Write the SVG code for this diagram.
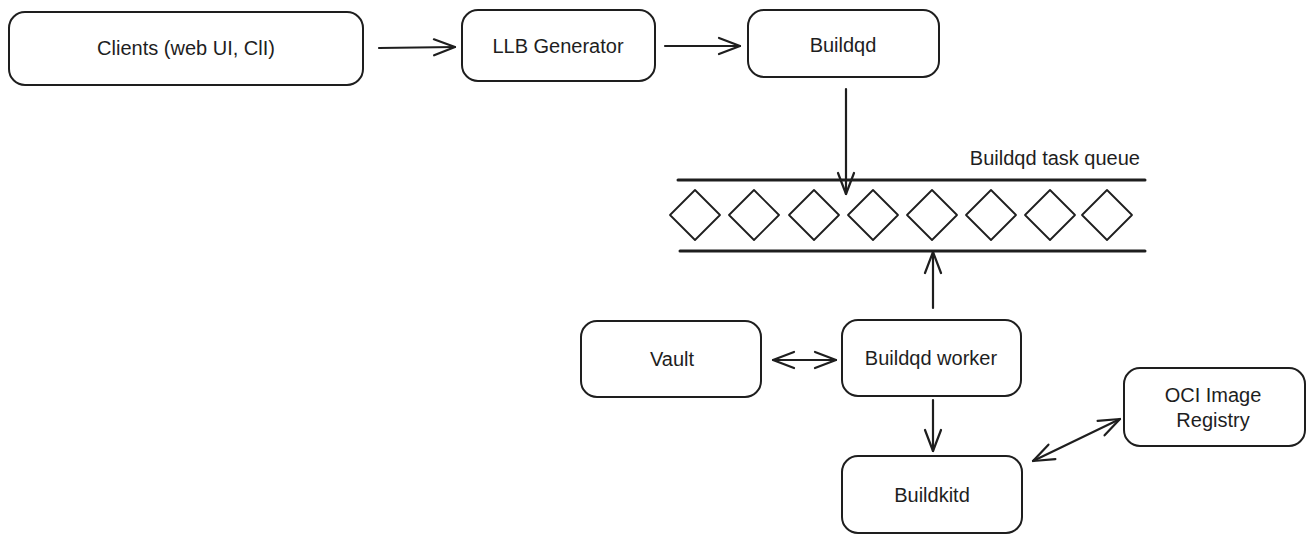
<svg xmlns="http://www.w3.org/2000/svg" width="1314" height="544" viewBox="0 0 1314 544">
<defs>
<marker id="ah" markerUnits="userSpaceOnUse" markerWidth="30" markerHeight="30" viewBox="-25 -15 30 30" refX="0" refY="0" orient="auto-start-reverse">
<path d="M -21 -8 L 0 0 L -21 8" fill="none" stroke="#1e1e1e" stroke-width="2.2" stroke-linecap="round" stroke-linejoin="round"/>
</marker>
</defs>
<style>
.box{fill:#ffffff;stroke:#1e1e1e;stroke-width:2}
.t{font-family:"Liberation Sans","DejaVu Sans",sans-serif;font-size:20px;fill:#1e1e1e;text-anchor:middle;dominant-baseline:central}
.ln{fill:none;stroke:#1e1e1e;stroke-width:2.2;stroke-linecap:round}
.q{fill:none;stroke:#1e1e1e;stroke-width:3;stroke-linecap:round}
.d{fill:#ffffff;stroke:#1e1e1e;stroke-width:1.8;stroke-linejoin:round}
</style>
<rect width="1314" height="544" fill="#ffffff"/>
<g id="clients"><rect class="box" x="9" y="12" width="354" height="73" rx="16"/><text class="t" x="186" y="48">Clients (web UI, ClI)</text></g>
<g id="llb"><rect class="box" x="462" y="10" width="193" height="71" rx="16"/><text class="t" x="558" y="46">LLB Generator</text></g>
<g id="buildqd"><rect class="box" x="748" y="10" width="191" height="67" rx="16"/><text class="t" x="843" y="45">Buildqd</text></g>
<g id="queue">
<text class="t" x="1140" y="158" style="text-anchor:end">Buildqd task queue</text>
<line class="q" x1="678" y1="180" x2="1145" y2="180"/>
<line class="q" x1="680" y1="251" x2="1145" y2="251"/>
<path class="d" d="M 695 190 L 720 215 L 695 240 L 670 215 Z"/>
<path class="d" d="M 754 190 L 779 215 L 754 240 L 729 215 Z"/>
<path class="d" d="M 814 190 L 839 215 L 814 240 L 789 215 Z"/>
<path class="d" d="M 873 190 L 898 215 L 873 240 L 848 215 Z"/>
<path class="d" d="M 932 190 L 957 215 L 932 240 L 907 215 Z"/>
<path class="d" d="M 991 190 L 1016 215 L 991 240 L 966 215 Z"/>
<path class="d" d="M 1050 190 L 1075 215 L 1050 240 L 1025 215 Z"/>
<path class="d" d="M 1107 190 L 1132 215 L 1107 240 L 1082 215 Z"/>
</g>
<g id="vault"><rect class="box" x="581" y="321" width="180" height="76" rx="16"/><text class="t" x="672" y="359">Vault</text></g>
<g id="worker"><rect class="box" x="842" y="320" width="179" height="76" rx="16"/><text class="t" x="931" y="358">Buildqd worker</text></g>
<g id="buildkitd"><rect class="box" x="842" y="456" width="180" height="77" rx="16"/><text class="t" x="932" y="495">Buildkitd</text></g>
<g id="oci"><rect class="box" x="1124" y="368" width="181" height="78" rx="16"/><text class="t" x="1213" y="395">OCI Image</text><text class="t" x="1213" y="420">Registry</text></g>
<g id="connectors">
<line class="ln" x1="379" y1="48" x2="455" y2="47" marker-end="url(#ah)"/>
<line class="ln" x1="665" y1="46" x2="740" y2="46" marker-end="url(#ah)"/>
<line class="ln" x1="846" y1="89" x2="846" y2="194" marker-end="url(#ah)"/>
<line class="ln" x1="933" y1="308" x2="933" y2="252" marker-end="url(#ah)"/>
<line class="ln" x1="773" y1="360" x2="836" y2="360" marker-start="url(#ah)" marker-end="url(#ah)"/>
<line class="ln" x1="933" y1="400" x2="933" y2="451" marker-end="url(#ah)"/>
<line class="ln" x1="1033" y1="461" x2="1120" y2="419" marker-start="url(#ah)" marker-end="url(#ah)"/>
</g>
</svg>
